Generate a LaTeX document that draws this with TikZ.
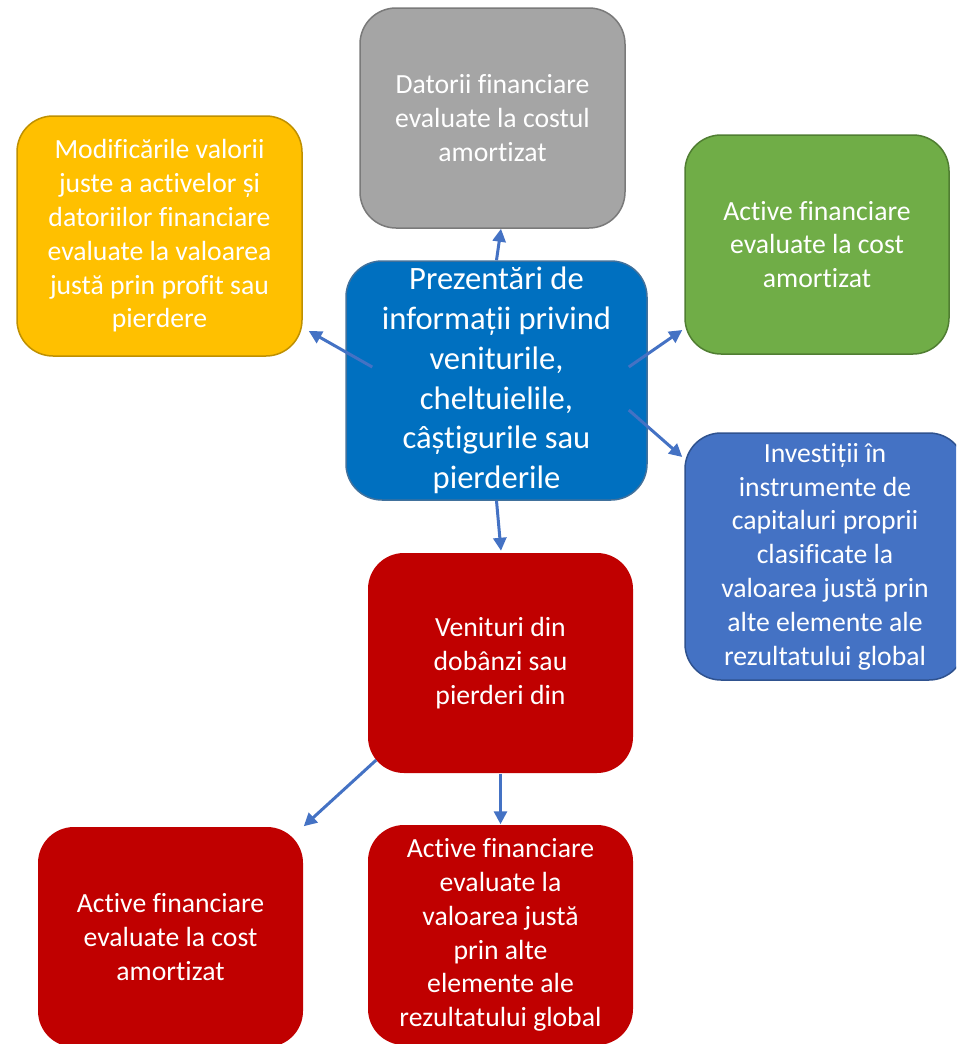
\documentclass[tikz,border=0pt]{standalone}
\usepackage{fontspec}
\setmainfont{Carlito}[Ligatures={NoCommon}]
\usetikzlibrary{arrows.meta,calc}
\definecolor{cgray}{HTML}{A5A5A5}
\definecolor{cgrayb}{HTML}{7A7A7A}
\definecolor{cyel}{HTML}{FFC000}
\definecolor{cyelb}{HTML}{BF9000}
\definecolor{cgreen}{HTML}{70AD47}
\definecolor{cgreenb}{HTML}{507E32}
\definecolor{cblue}{HTML}{0070C0}
\definecolor{cblueb}{HTML}{41719C}
\definecolor{cinv}{HTML}{4472C4}
\definecolor{cinvb}{HTML}{2F528F}
\definecolor{cred}{HTML}{C00000}
\definecolor{carrow}{HTML}{4472C4}
\tikzset{
  box/.style={rounded corners=36pt, align=center, text=white, inner sep=0pt,
    line width=1.5pt, font=\fontsize{27.7}{33.8}\selectfont},
  arr/.style={draw=carrow, line width=3pt, -{Triangle[length=13pt,width=13pt]}}
}
\begin{document}
\begin{tikzpicture}[x=1pt,y=-1pt]
\useasboundingbox (0,0) rectangle (956,1044);
\clip (0,0) rectangle (956,1044);
\node[box, fill=cgray, draw=cgrayb, minimum width=265pt, minimum height=220pt] (gray) at (492.5,118)
  {Datorii financiare\\evaluate la costul\\amortizat};
\node[box, fill=cyel, draw=cyelb, minimum width=285pt, minimum height=240pt] (yel) at (159.5,236)
  {Modificările valorii\\juste a activelor și\\datoriilor financiare\\evaluate la valoarea\\justă prin profit sau\\pierdere};
\node[box, fill=cgreen, draw=cgreenb, minimum width=264pt, minimum height=219pt] (green) at (817,244.5)
  {Active financiare\\evaluate la cost\\amortizat};
\node[box, fill=cblue, draw=cblueb, minimum width=301pt, minimum height=239pt,
  font=\fontsize{32.6}{39.8}\selectfont] (c) at (496.5,380.5)
  {Prezentări de\\informații privind\\veniturile,\\cheltuielile,\\câștigurile sau\\pierderile};
\node[box, fill=cinv, draw=cinvb, minimum width=280pt, minimum height=247pt] (inv) at (825,556.5)
  {Investiții în\\instrumente de\\capitaluri proprii\\clasificate la\\valoarea justă prin\\alte elemente ale\\rezultatului global};
\node[box, fill=cred, minimum width=265pt, minimum height=220pt] (ven) at (500.5,663)
  {Venituri din\\dobânzi sau\\pierderi din};
\node[box, fill=cred, minimum width=265pt, minimum height=220pt] (bl) at (170.5,937)
  {Active financiare\\evaluate la cost\\amortizat};
\node[box, fill=cred, minimum width=265pt, minimum height=220pt] (bm) at (500.5,935)
  {Active financiare\\evaluate la\\valoarea justă\\prin alte\\elemente ale\\rezultatului global};
\draw[arr] (c.north) -- ($(gray.south)+(8.5,0)$);
\draw[arr] ($(c.west)+(27,-13.5)$) -- ($(yel.east)+(6,95)$);
\draw[arr] ($(c.east)+(-19,-13.5)$) -- ($(green.west)+(-2,85.5)$);
\draw[arr] ($(c.east)+(-19,29.5)$) -- ($(inv.west)+(-2,-99.5)$);
\draw[arr] ($(c.south)+(0,0)$) -- ($(ven.north)+(0.5,-1.5)$);
\draw[arr] ($(ven.west)+(9,97)$) -- (bl.north east);
\draw[arr] (ven.south) -- (bm.north);
\end{tikzpicture}
\end{document}
